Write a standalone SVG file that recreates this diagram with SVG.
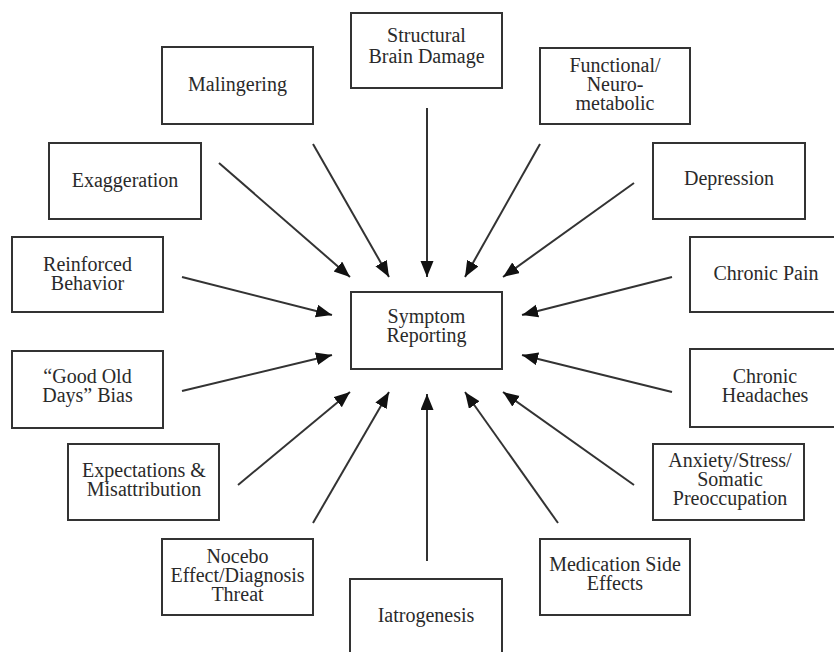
<svg xmlns="http://www.w3.org/2000/svg" width="834" height="652" viewBox="0 0 834 652">
<style>
.box{fill:#fff;stroke:#333;stroke-width:2}
.t{font-family:"Liberation Serif","Times New Roman",serif;font-size:20px;fill:#2a2a2a;text-anchor:middle}
.c{stroke:#333;stroke-width:2;fill:none;marker-end:url(#ah)}
</style>
<defs>
<marker id="ah" markerUnits="userSpaceOnUse" markerWidth="18" markerHeight="14" refX="16" refY="6.5" orient="auto">
<path d="M0,0 L16,6.5 L0,13 z" fill="#111"/>
</marker>
</defs>
<rect width="834" height="652" fill="#fff"/>
<g id="connectors">
<line class="c" x1="313" y1="144" x2="389" y2="277"/>
<line class="c" x1="219" y1="163" x2="350" y2="277"/>
<line class="c" x1="427" y1="108" x2="427" y2="277"/>
<line class="c" x1="540" y1="144" x2="465" y2="277"/>
<line class="c" x1="634" y1="183" x2="503" y2="277"/>
<line class="c" x1="182" y1="277" x2="332" y2="315"/>
<line class="c" x1="182" y1="391" x2="332" y2="355"/>
<line class="c" x1="672" y1="277" x2="522" y2="315"/>
<line class="c" x1="672" y1="392" x2="522" y2="355"/>
<line class="c" x1="238" y1="485" x2="350" y2="392"/>
<line class="c" x1="313" y1="523" x2="389" y2="392"/>
<line class="c" x1="427" y1="561" x2="427" y2="394"/>
<line class="c" x1="558" y1="523" x2="465" y2="392"/>
<line class="c" x1="634" y1="485" x2="503" y2="392"/>
</g>
<g id="symptom-reporting">
<rect class="box" x="351" y="292" width="151" height="77"/>
<text class="t" x="426.5" y="323">Symptom</text>
<text class="t" x="426.5" y="342">Reporting</text>
</g>
<g id="structural-brain-damage">
<rect class="box" x="351" y="13" width="151" height="75"/>
<text class="t" x="426.5" y="42">Structural</text>
<text class="t" x="426.5" y="63">Brain Damage</text>
</g>
<g id="malingering">
<rect class="box" x="162" y="47" width="151" height="77"/>
<text class="t" x="237.5" y="91">Malingering</text>
</g>
<g id="functional">
<rect class="box" x="540" y="48" width="150" height="76"/>
<text class="t" x="615" y="72">Functional/</text>
<text class="t" x="615" y="91">Neuro-</text>
<text class="t" x="615" y="110">metabolic</text>
</g>
<g id="exaggeration">
<rect class="box" x="49" y="143" width="152" height="76"/>
<text class="t" x="125" y="187">Exaggeration</text>
</g>
<g id="depression">
<rect class="box" x="653" y="143" width="152" height="76"/>
<text class="t" x="729" y="185">Depression</text>
</g>
<g id="reinforced-behavior">
<rect class="box" x="12" y="237" width="151" height="75"/>
<text class="t" x="87.5" y="271">Reinforced</text>
<text class="t" x="87.5" y="290">Behavior</text>
</g>
<g id="chronic-pain">
<rect class="box" x="690" y="237" width="152" height="75"/>
<text class="t" x="766" y="280">Chronic Pain</text>
</g>
<g id="good-old-days">
<rect class="box" x="12" y="351" width="151" height="77"/>
<text class="t" x="87.5" y="383">“Good Old</text>
<text class="t" x="87.5" y="402">Days” Bias</text>
</g>
<g id="chronic-headaches">
<rect class="box" x="690" y="349" width="152" height="78"/>
<text class="t" x="765" y="383">Chronic</text>
<text class="t" x="765" y="402">Headaches</text>
</g>
<g id="expectations">
<rect class="box" x="68" y="444" width="151" height="76"/>
<text class="t" x="144" y="477">Expectations &amp;</text>
<text class="t" x="144" y="496">Misattribution</text>
</g>
<g id="anxiety">
<rect class="box" x="653" y="444" width="151" height="76"/>
<text class="t" x="730" y="467">Anxiety/Stress/</text>
<text class="t" x="730" y="486">Somatic</text>
<text class="t" x="730" y="505">Preoccupation</text>
</g>
<g id="nocebo">
<rect class="box" x="162" y="539" width="151" height="76"/>
<text class="t" x="237.5" y="563">Nocebo</text>
<text class="t" x="237.5" y="582">Effect/Diagnosis</text>
<text class="t" x="237.5" y="601">Threat</text>
</g>
<g id="medication">
<rect class="box" x="540" y="539" width="150" height="76"/>
<text class="t" x="615" y="571">Medication Side</text>
<text class="t" x="615" y="590">Effects</text>
</g>
<g id="iatrogenesis">
<rect class="box" x="350" y="579" width="152" height="90"/>
<text class="t" x="426" y="622">Iatrogenesis</text>
</g>
</svg>
